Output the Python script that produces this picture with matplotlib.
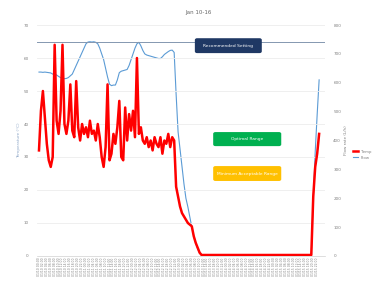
import matplotlib
matplotlib.use("Agg")
import matplotlib.pyplot as plt
from matplotlib.patches import FancyBboxPatch
import pandas as pd

# ---------------------------------------------------------------------------
# Data (hourly readings, 10-16 Jan)
# ---------------------------------------------------------------------------

times = pd.date_range("2018-01-10 00:00", periods=144, freq="h")

temp = [
    32, 44, 50, 42, 34, 29, 27, 30, 64, 41, 37, 44, 64, 40, 37, 41, 52, 38, 36, 53,
    39, 35, 40, 37, 39, 36, 41, 37, 38, 35, 40, 36, 30, 27, 33, 52, 29, 31, 37, 34,
    39, 47, 30, 29, 45, 35, 43, 38, 44, 36, 60, 37, 39, 35, 34, 36, 33, 35, 32, 36,
    34, 33, 36, 31, 35, 34, 37, 33, 36, 35, 21, 18, 15, 13, 12, 11, 10, 9.5, 9, 6,
    4, 2.5, 1, 0.3, 0.3, 0.3, 0.3, 0.3, 0.3, 0.3, 0.3, 0.3, 0.3, 0.3, 0.3, 0.3, 0.3, 0.3, 0.3, 0.3,
    0.3, 0.3, 0.3, 0.3, 0.3, 0.3, 0.3, 0.3, 0.3, 0.3, 0.3, 0.3, 0.3, 0.3, 0.3, 0.3, 0.3, 0.3, 0.3, 0.3,
    0.3, 0.3, 0.3, 0.3, 0.3, 0.3, 0.3, 0.3, 0.3, 0.3, 0.3, 0.3, 0.3, 0.3, 0.3, 0.3, 0.3, 0.3, 0.3, 0.3,
    18, 27, 31, 37,
]

flow = [
    637, 637, 636, 637, 636, 635, 634, 630, 628, 627, 622, 618, 616, 614, 615, 618, 624, 630, 645, 660,
    675, 690, 705, 720, 735, 741, 742, 741, 742, 740, 735, 720, 700, 680, 650, 620, 595, 590, 592, 592,
    610, 635, 640, 642, 644, 646, 660, 680, 700, 720, 735, 740, 728, 712, 700, 696, 694, 692, 690, 688,
    686, 684, 684, 690, 698, 703, 708, 712, 713, 705, 560, 430, 370, 310, 250, 200, 170, 135, 100, 70,
    45, 25, 10, 4, 4, 4, 4, 4, 4, 4, 4, 4, 4, 4, 4, 4, 4, 4, 4, 4,
    4, 4, 4, 4, 4, 4, 4, 4, 4, 4, 4, 4, 4, 4, 4, 4, 4, 4, 4, 4,
    4, 4, 4, 4, 4, 4, 4, 4, 4, 4, 4, 4, 4, 4, 4, 4, 4, 4, 4, 6,
    200, 360, 490, 610,
]

threshold = 740

# text boxes: label, colour, (x0, y0, w, h) in figure fraction
boxes = [
    ("Recommended Setting", "#1f3864", (0.521, 0.811, 0.179, 0.053)),
    ("Optimal Range", "#00b050", (0.570, 0.480, 0.182, 0.050)),
    ("Minimum Acceptable Range", "#ffc000", (0.570, 0.356, 0.182, 0.053)),
]

# ---------------------------------------------------------------------------
# Chart
# ---------------------------------------------------------------------------

fig = plt.figure(figsize=(3.74, 2.81), dpi=100)
ax = fig.add_axes([0.099, 0.089, 0.77, 0.822])
ax2 = ax.twinx()

x = list(range(len(times)))

ax.plot(x, temp, color="#ff0000", lw=1.8, label="Temp", zorder=3)
ax2.plot(x, flow, color="#5b9bd5", lw=0.8, label="Flow")
ax2.axhline(threshold, color="#8497b0", lw=0.7)

ax.set_zorder(ax2.get_zorder() + 1)
ax.patch.set_visible(False)

ax.set_ylim(0, 70)
ax.set_yticks(range(0, 71, 10))
ax2.set_ylim(0, 800)
ax2.set_yticks(range(0, 801, 100))
ax.set_xlim(-1, len(x) + 2)

ax.grid(axis="y", color="#ececec", lw=0.6)
ax.set_axisbelow(True)

ax.set_xticks(x[::2])
ax.set_xticklabels([t.strftime("%m/%d %H:%M") for t in times[::2]],
                   rotation=90, fontsize=2.2, color="#808080")
ax.tick_params(axis="y", labelsize=3, colors="#808080", length=0, pad=6)
ax2.tick_params(axis="y", labelsize=3, colors="#808080", length=0, pad=6)
ax.tick_params(axis="x", length=0, pad=1)

for a in (ax, ax2):
    for s in a.spines.values():
        s.set_visible(False)
ax.spines["bottom"].set_visible(True)
ax.spines["bottom"].set_color("#d0d0d0")
ax.spines["bottom"].set_linewidth(0.5)

ax.set_ylabel("Temperature (°C)", fontsize=3, color="#8fa8c8", labelpad=2)
ax2.set_ylabel("Flow rate (L/h)", fontsize=3, color="#808080", labelpad=2)

fig.suptitle("Jan 10-16", x=0.53, y=0.965, fontsize=4, color="#666666")

for label, colour, (bx, by, bw, bh) in boxes:
    fig.patches.append(FancyBboxPatch((bx, by), bw, bh, boxstyle="round,pad=0,rounding_size=0.006",
                                      transform=fig.transFigure, fc=colour, ec="none", zorder=5))
    fig.text(bx + bw / 2, by + bh / 2, label, ha="center", va="center",
             fontsize=3.2, color="white", zorder=6)

h1, l1 = ax.get_legend_handles_labels()
h2, l2 = ax2.get_legend_handles_labels()
fig.legend(h1 + h2, l1 + l2, loc="center left", bbox_to_anchor=(0.935, 0.45),
           fontsize=2.8, frameon=False, handlelength=1.2, labelcolor="#808080")

fig.savefig("out.png", dpi=100)
